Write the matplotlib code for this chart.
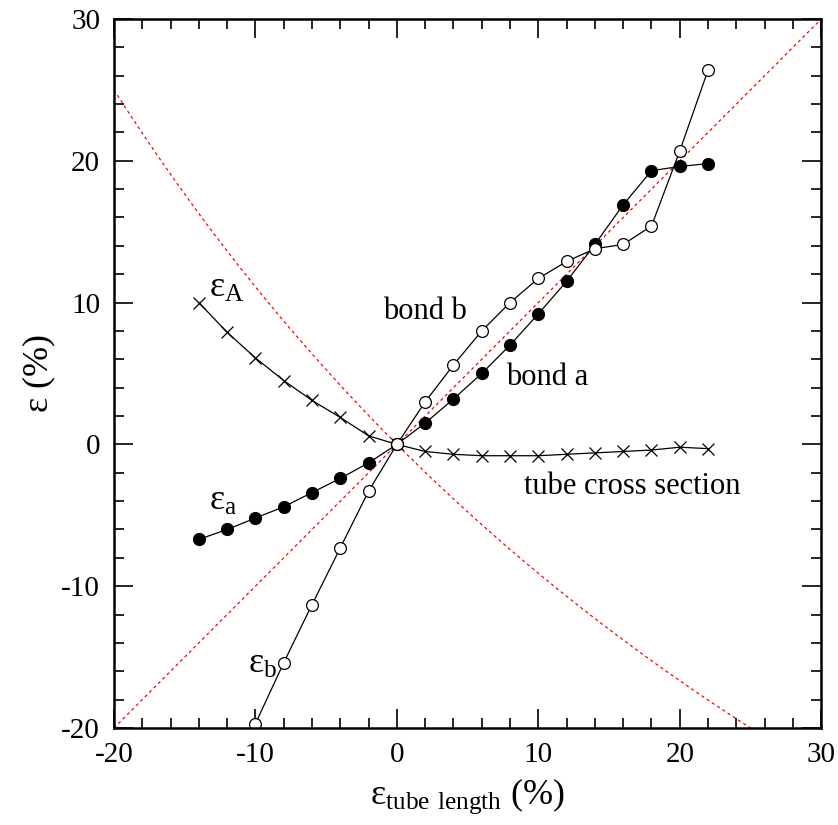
import numpy as np
import matplotlib
matplotlib.use("Agg")
import matplotlib.pyplot as plt
from matplotlib.ticker import MultipleLocator

plt.rcParams['font.family'] = ['Liberation Serif', 'DejaVu Serif']
plt.rcParams['mathtext.fontset'] = 'custom'
plt.rcParams['mathtext.rm'] = 'Liberation Serif'
plt.rcParams['axes.unicode_minus'] = False

# strain data (%)
x_b = [-10, -8, -6, -4, -2, 0, 2, 4, 6, 8, 10, 12, 14, 16, 18, 20, 22]
bond_b = [-19.7, -15.4, -11.3, -7.3, -3.3, 0.0, 3.0, 5.6, 8.0, 10.0, 11.7, 12.9,
          13.8, 14.1, 15.4, 20.7, 26.4]

x_a = [-14, -12, -10, -8, -6, -4, -2, 0, 2, 4, 6, 8, 10, 12, 14, 16, 18, 20, 22]
bond_a = [-6.7, -6.0, -5.2, -4.4, -3.4, -2.4, -1.3, 0.0, 1.5, 3.2, 5.0, 7.0, 9.2,
          11.5, 14.1, 16.9, 19.3, 19.6, 19.8]

cross = [10.0, 7.9, 6.1, 4.5, 3.1, 1.9, 0.6, 0.0, -0.5, -0.7, -0.8, -0.8, -0.8,
         -0.7, -0.6, -0.5, -0.4, -0.2, -0.3]

fig = plt.figure(figsize=(8.38, 8.25), dpi=100)
ax = fig.add_axes([0.136, 0.1176, 0.844, 0.8594])

# reference curves: equal strain and constant-area relation
xr = np.linspace(-20, 30, 400)
ax.plot(xr, xr, color='red', ls=(0, (2.5, 2.5)), lw=0.9)
ax.plot(xr, -xr / (1 + xr / 100.0), color='red', ls=(0, (2.5, 2.5)), lw=0.9)

ax.plot(x_a, cross, color='black', lw=0.9, marker='x', ms=9, mew=0.9)
ax.plot(x_a, bond_a, color='black', lw=0.9, marker='o', ms=8.5, mfc='black')
ax.plot(x_b, bond_b, color='black', lw=0.9, marker='o', ms=8.5, mfc='white', mew=0.9)

fs = 22
ax.text(-1.0, 9.4, 'bond b', fontsize=fs, va='center')
ax.text(7.7, 4.7, 'bond a', fontsize=fs, va='center')
ax.text(9.0, -3.0, 'tube cross section', fontsize=fs, va='center')
ax.text(-13.3, 11.0, r'$\mathregular{\epsilon_A}$', fontsize=26, va='center')
ax.text(-13.3, -4.0, r'$\mathregular{\epsilon_a}$', fontsize=26, va='center')
ax.text(-10.5, -15.5, r'$\mathregular{\epsilon_b}$', fontsize=26, va='center')

ax.set_xlim(-20, 30)
ax.set_ylim(-20, 30)
ax.xaxis.set_major_locator(MultipleLocator(10))
ax.yaxis.set_major_locator(MultipleLocator(10))
ax.xaxis.set_minor_locator(MultipleLocator(2))
ax.yaxis.set_minor_locator(MultipleLocator(2))
ax.tick_params(which='both', direction='in', top=True, right=True, labelsize=21, width=1.2)
ax.tick_params(which='major', length=14, pad=10)
ax.tick_params(which='minor', length=7)
for s in ax.spines.values():
    s.set_linewidth(1.8)

ax.set_xlabel(r'$\mathregular{\epsilon_{tube\ length}}$ (%)', fontsize=26, labelpad=6)
ax.set_ylabel(r'$\mathregular{\epsilon}$ (%)', fontsize=26, labelpad=2)

fig.savefig('out.png', dpi=100)
